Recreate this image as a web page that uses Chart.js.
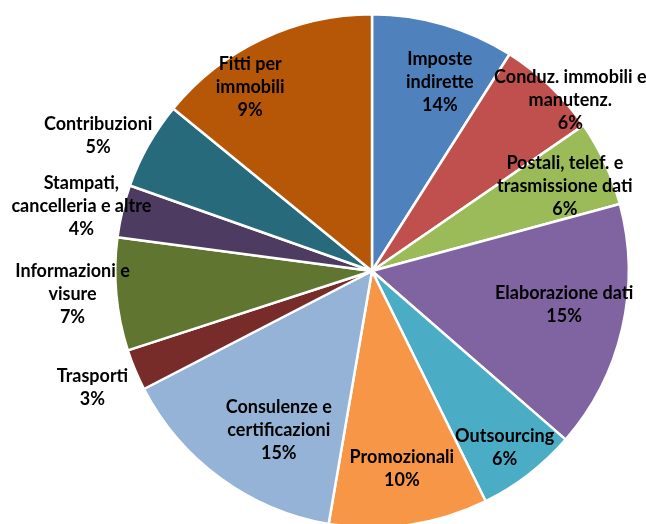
<!DOCTYPE html>
<html>
<head>
<meta charset="utf-8">
<script src="https://cdn.jsdelivr.net/npm/chart.js@4"></script>
<style>
  html, body { margin: 0; padding: 0; background: #fff; overflow: hidden; }
  #box { width: 646px; height: 540px; position: relative; }
</style>
</head>
<body>
<div id="box"><canvas id="grafic"></canvas></div>
<script>
// categories, clockwise from 12 o'clock
const categorie = [
  "Imposte indirette",
  "Conduz. immobili e manutenz.",
  "Postali, telef. e trasmissione dati",
  "Elaborazione dati",
  "Outsourcing",
  "Promozionali",
  "Consulenze e certificazioni",
  "Trasporti",
  "Informazioni e visure",
  "Stampati, cancelleria e altre",
  "Contribuzioni",
  "Fitti per immobili"
];

// slice sizes (percent)
const valori = [9.0, 6.4, 5.4, 15.6, 6.3, 10.0, 14.7, 2.6, 7.1, 3.3, 5.5, 14.1];

// percentages as printed on the labels
const etichettePct = ["14%", "6%", "6%", "15%", "6%", "10%", "15%", "3%", "7%", "4%", "5%", "9%"];

// wrapped label text
const righe = [
  ["Imposte", "indirette"],
  ["Conduz. immobili e", "manutenz."],
  ["Postali, telef. e", "trasmissione dati"],
  ["Elaborazione dati"],
  ["Outsourcing"],
  ["Promozionali"],
  ["Consulenze e", "certificazioni"],
  ["Trasporti"],
  ["Informazioni e", "visure"],
  ["Stampati,", "cancelleria e altre"],
  ["Contribuzioni"],
  ["Fitti per", "immobili"]
];

const colori = [
  "#4F81BD", "#C0504D", "#9BBB59", "#8064A2", "#4BACC6", "#F79646",
  "#95B3D7", "#772C2A", "#5F7530", "#4D3B62", "#276A7C", "#B65708"
];

// label placement: [fraction of radius, angle shift in degrees]
const posEtichette = [
  [0.78, 3.6], [1.02, 5.3], [0.82, 1.2], [0.76, -3.0], [0.86, 0.7], [0.78, -0.3],
  [0.72, -5.9], [1.18, 0.0], [1.17, 0.8], [1.16, -0.9], [1.19, -3.0], [0.86, -8.1]
];

const fontEtichette = "bold 18px Lato, sans-serif";
const altezzaRiga = 23;

const labelPlugin = {
  id: "etichette",
  afterDatasetsDraw(chart) {
    const ctx = chart.ctx;
    const meta = chart.getDatasetMeta(0);
    ctx.save();
    ctx.font = fontEtichette;
    ctx.fillStyle = "#000";
    ctx.textAlign = "center";
    ctx.textBaseline = "middle";
    meta.data.forEach((arc, i) => {
      const p = arc.getProps(["x", "y", "startAngle", "endAngle", "outerRadius"], true);
      const ang = (p.startAngle + p.endAngle) / 2 + posEtichette[i][1] * Math.PI / 180;
      const r = p.outerRadius * posEtichette[i][0];
      const cx = p.x + Math.cos(ang) * r;
      const cy = p.y + Math.sin(ang) * r;
      const lines = righe[i].concat([etichettePct[i]]);
      const top = cy - (lines.length - 1) * altezzaRiga / 2;
      lines.forEach((t, k) => ctx.fillText(t, cx, top + k * altezzaRiga));
    });
    ctx.restore();
  }
};

const ctx = document.getElementById("grafic").getContext("2d");
new Chart(ctx, {
  type: "pie",
  data: {
    labels: categorie,
    datasets: [
      {
        data: valori,
        backgroundColor: colori,
        borderColor: "#ffffff",
        borderWidth: 2.5,
      },
    ],
  },
  options: {
    responsive: true,
    maintainAspectRatio: false,
    animation: false,
    layout: {
      padding: { top: 13, left: 114, right: 16, bottom: 11 },
    },
    plugins: {
      legend: { display: false },
      tooltip: { enabled: false },
    },
  },
  plugins: [labelPlugin],
});
</script>
</body>
</html>
